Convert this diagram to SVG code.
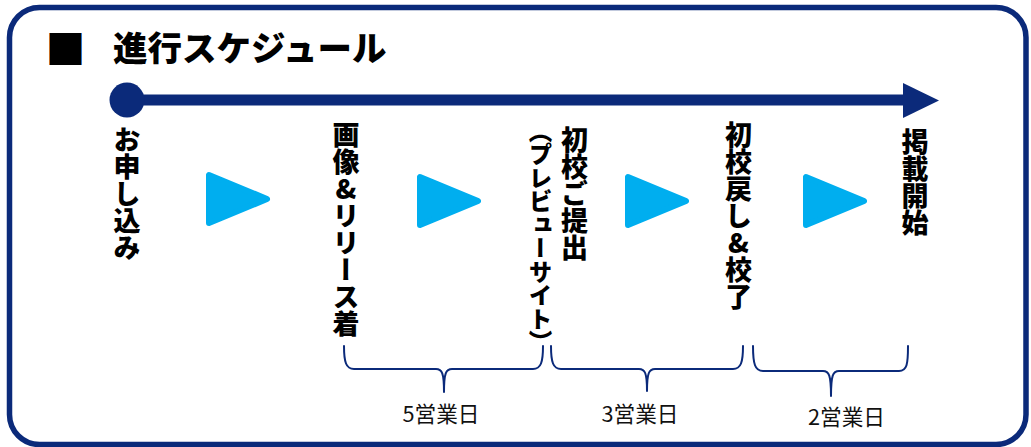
<svg xmlns="http://www.w3.org/2000/svg" width="1031" height="447" viewBox="0 0 1031 447">
  <style>
    .title { font-family: "Noto Sans CJK JP", "Noto Sans", sans-serif; font-weight: 900; font-size: 34.5px; fill: #000; }
    .vlabel { font-family: "Noto Sans CJK JP", sans-serif; font-weight: 900; font-size: 27px; fill: #000; writing-mode: vertical-rl; text-orientation: upright; }
    .vsmall { font-size: 23.5px; }
    .days { font-family: "Noto Sans CJK JP", "Noto Sans", sans-serif; font-weight: 400; font-size: 21.5px; fill: #111; text-anchor: middle; }
    .brace { fill: none; stroke: #0b2a7a; stroke-width: 2; stroke-linecap: round; stroke-linejoin: round; }
    .navy { fill: #0b2a7a; }
  </style>
  <defs>
    <path id="tri" d="M3,3 L3,51 L61,27 Z" fill="#00aeef" stroke="#00aeef" stroke-width="6" stroke-linejoin="round"/>
  </defs>

  <rect id="frame" x="9.5" y="7.5" width="1016.5" height="437" rx="30" ry="30" fill="#fff" stroke="#0b2a7a" stroke-width="5.5"/>

  <g id="title">
    <text class="title" x="45.6" y="63.5" style="font-size:40px">■</text>
    <text class="title" x="113" y="61">進行スケジュール</text>
  </g>

  <g id="connectors">
    <line x1="127" y1="100" x2="905" y2="100" stroke="#0b2a7a" stroke-width="11"/>
    <polygon class="navy" points="903,83 939,100.5 903,118"/>
    <circle class="navy" cx="127" cy="100" r="17.5"/>
    <use href="#tri" x="206" y="172"/>
    <use href="#tri" x="417" y="174"/>
    <use href="#tri" x="625" y="174"/>
    <use href="#tri" x="803" y="174"/>
    <path class="brace" d="M344,346 C344,362 346,369 354,369 L436,369 C442,369 444,373 444,392 C444,373 446,369 452,369 L533,369 C541,369 543,362 543,346"/>
    <path class="brace" d="M551,346 C551,362 553,369 561,369 L639,369 C645,369 647,373 647,391 C647,373 649,369 655,369 L733,369 C741,369 743,362 743,346"/>
    <path class="brace" d="M753,346 C753,364 755,371 763,371 L823,371 C829,371 831,375 831,396 C831,375 833,371 839,371 L899,371 C907,371 908,364 908,346"/>
  </g>

  <g id="n1"><text class="vlabel" x="127" y="126">お申し込み</text></g>
  <g id="n2"><text class="vlabel" x="346" y="121">画像&amp;リリース着</text></g>
  <g id="n3">
    <text class="vlabel" x="574.5" y="126">初校ご提出</text>
    <text class="vlabel vsmall" x="540.5" y="119">（プレビューサイト）</text>
  </g>
  <g id="n4"><text class="vlabel" x="738.5" y="121">初校戻し&amp;校了</text></g>
  <g id="n5"><text class="vlabel" x="915" y="128">掲載開始</text></g>

  <g id="durations">
    <text class="days" x="441" y="422" textLength="77" lengthAdjust="spacingAndGlyphs">5営業日</text>
    <text class="days" x="640" y="422" textLength="77" lengthAdjust="spacingAndGlyphs">3営業日</text>
    <text class="days" x="846.5" y="425" textLength="77" lengthAdjust="spacingAndGlyphs">2営業日</text>
  </g>
</svg>
